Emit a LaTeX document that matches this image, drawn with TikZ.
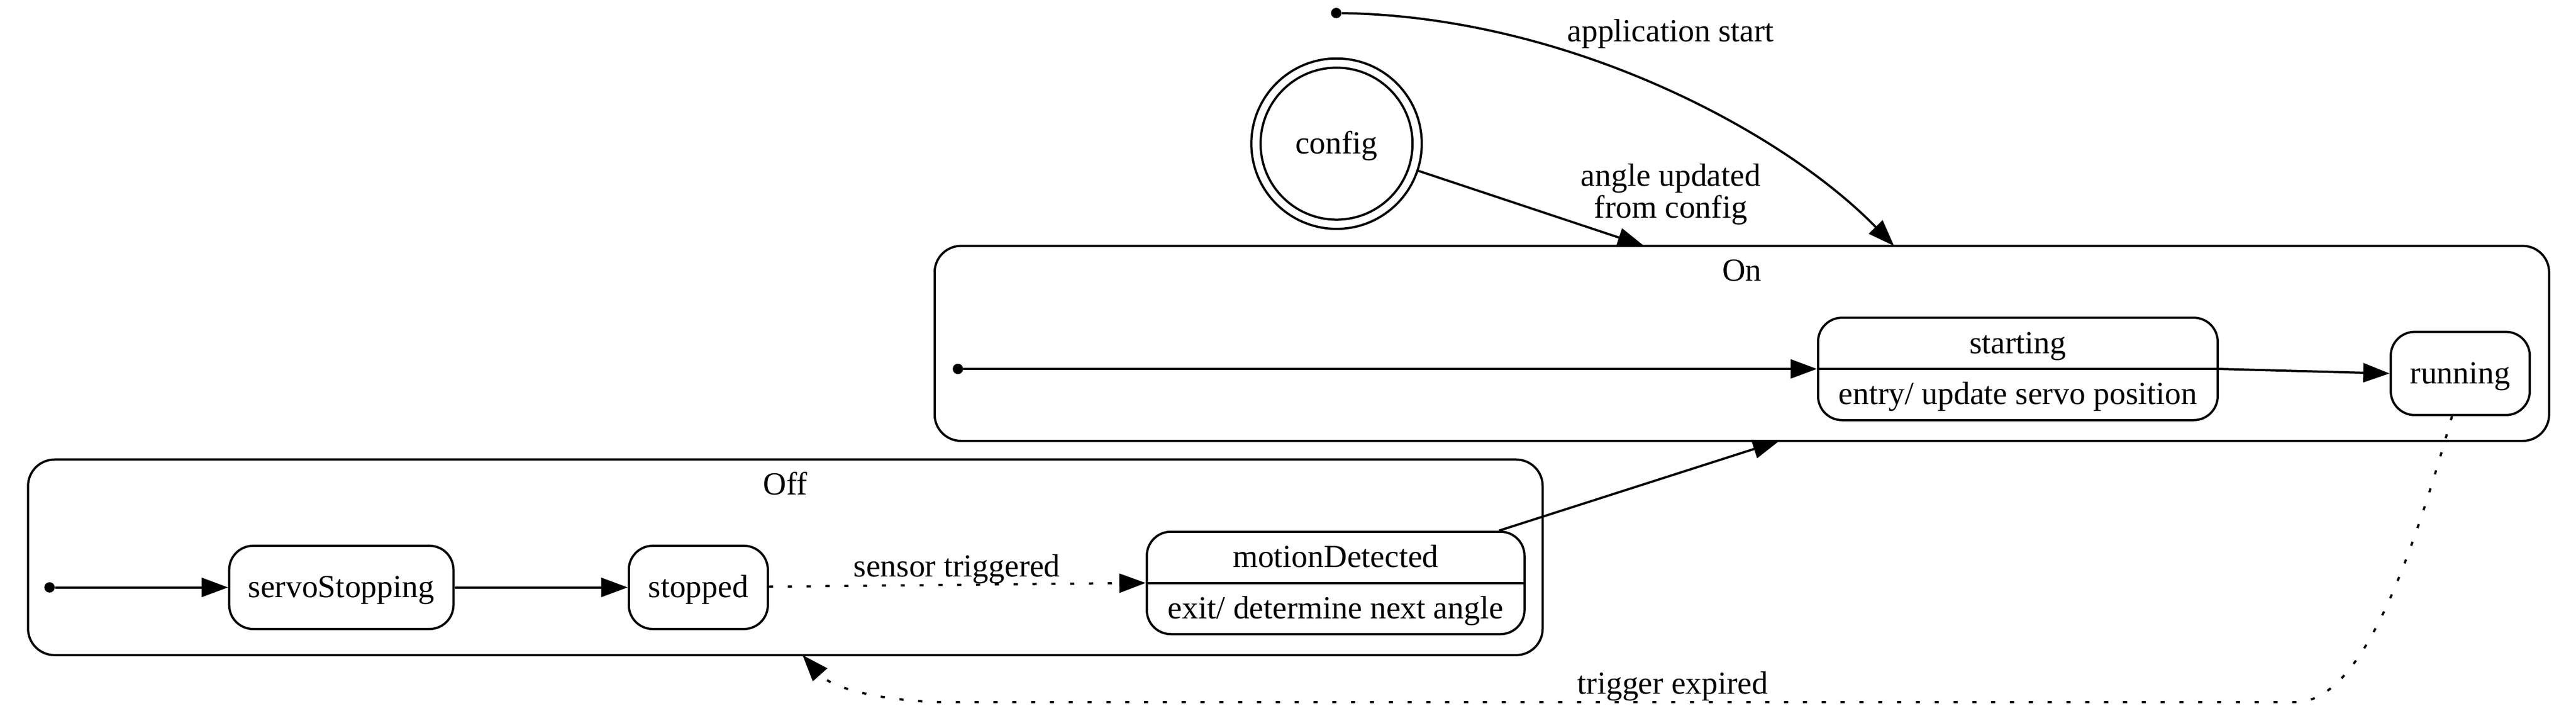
\documentclass[tikz,border=0pt]{standalone}
\usepackage{fontspec}
\setmainfont{Liberation Serif}
\usetikzlibrary{arrows.meta}
\begin{document}
\begin{tikzpicture}[x=1pt,y=-1pt,
  every node/.style={font=\fontsize{19.5}{19.2}\selectfont, inner sep=0pt},
  lw/.style={line width=1.35pt},
  state/.style={draw, lw, rounded corners=14.5pt, text height=16.2pt, text depth=4pt, minimum height=50.4pt, inner sep=0pt},
  cluster/.style={draw, lw, rounded corners=16pt, inner sep=0pt},
  initdot/.style={circle, fill=black, minimum size=6.3pt, inner sep=0pt},
  arr/.style={lw, -{Triangle[length=16pt,width=11.5pt]}},
  dotarr/.style={arr, dash pattern=on 2.5pt off 8.9pt},
  lbl/.style={anchor=base, inner sep=0pt}]
\useasboundingbox (0,0) rectangle (1560,430.55);

% clusters
\node[cluster, minimum width=977.7pt, minimum height=118.1pt] (On) at (1054.85,207.95) {};
\node[lbl] (OnLabel) at (1054.85,170.2) {On};
\node[cluster, minimum width=917.2pt, minimum height=118.4pt] (Off) at (475.6,337.5) {};
\node[lbl] (OffLabel) at (475.6,299.6) {Off};

% simple states
\node[state, minimum width=135.8pt] (servoStopping) at (206.7,355.7) {servoStopping};
\node[state, minimum width=84.2pt] (stopped) at (422.9,355.7) {stopped};
\node[state, minimum width=84.2pt] (running) at (1489.9,226.15) {running};

% record states
\node[state, minimum width=242pt, minimum height=62pt] (starting) at (1222,223.4) {};
\draw[lw] (starting.west) -- (starting.east);
\node[lbl] (startingName) at (1222,214) {starting};
\node[lbl] (startingEntry) at (1222,245) {entry/ update servo position};

\node[state, minimum width=228.7pt, minimum height=62pt] (motionDetected) at (808.85,353) {};
\draw[lw] (motionDetected.west) -- (motionDetected.east);
\node[lbl] (motionName) at (808.85,343.6) {motionDetected};
\node[lbl] (motionExit) at (808.85,374.6) {exit/ determine next angle};

% config (double circle)
\node[circle, draw, lw, minimum size=103.2pt, text height=16.2pt, text depth=4pt] (config) at (809.4,87) {config};
\draw[lw] (config.center) circle[radius=46pt];

% initial points
\node[initdot] (appInit) at (809.2,7.9) {};
\node[initdot] (onInit) at (580.1,223.4) {};
\node[initdot] (offInit) at (30,355.7) {};

% entry points on cluster borders
\coordinate (onAppIn) at (1147,148.9);
\coordinate (onCfgIn) at (995.6,148.9);
\coordinate (onMotionIn) at (1077.5,267);
\coordinate (offTrigIn) at (486,396.7);

% edges
\draw[arr] (appInit) .. controls (950,10) and (1080,80) .. (onAppIn);
\node[lbl] (appLabel) at (1011.7,25.3) {application start};

\draw[arr] (config) -- (onCfgIn);
\node[align=center] (angleLabel) at (1011.8,117.7) {angle updated\\from config};

\draw[arr] (onInit) -- (starting.west);
\draw[arr] (starting.east) -- (running.west);

\draw[arr] (offInit) -- (servoStopping);
\draw[arr] (servoStopping) -- (stopped);
\draw[dotarr] (stopped) -- (motionDetected.west);
\node[lbl] (sensorLabel) at (579.5,349.2) {sensor triggered};

\draw[arr] (motionDetected) -- (onMotionIn);

\draw[dotarr] ([xshift=-5pt]running.south) .. controls (1460,340) and (1430,425.2) .. (1390,425.2) -- (575,425.2) .. controls (540,425.2) and (505,418) .. (offTrigIn);
\node[lbl] (trigLabel) at (1013,420.2) {trigger expired};
\end{tikzpicture}
\end{document}
